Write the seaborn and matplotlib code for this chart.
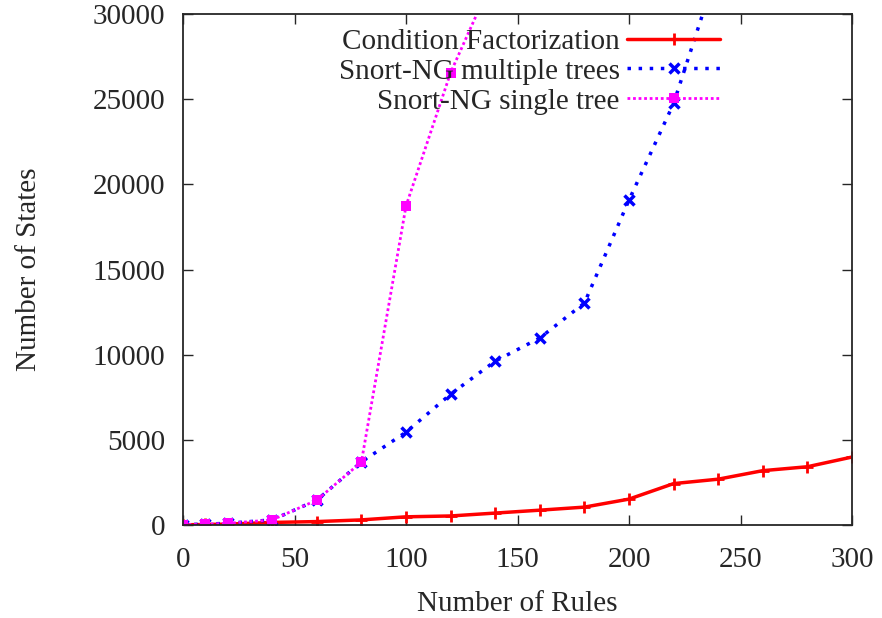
import matplotlib
matplotlib.use("Agg")
import matplotlib.pyplot as plt
import seaborn as sns
import pandas as pd

sns.set_style("ticks")
plt.rcParams['font.family'] = ['Liberation Serif', 'DejaVu Serif']

cf_x = [0, 10, 20, 40, 60, 80, 100, 120, 140, 160, 180, 200, 220, 240, 260, 280, 300]
cf_y = [10, 30, 50, 150, 200, 300, 480, 530, 700, 870, 1050, 1520, 2430, 2690, 3190, 3420, 3990]

mt_x = [0, 10, 20, 40, 60, 80, 100, 120, 140, 160, 180, 200, 220, 240]
mt_y = [20, 50, 100, 300, 1460, 3700, 5450, 7680, 9620, 10980, 13030, 19080, 24750, 32800]

st_x = [0, 10, 20, 40, 60, 80, 100, 120, 140]
st_y = [20, 50, 100, 300, 1460, 3700, 18730, 26560, 32400]

fig = plt.figure(figsize=(8.82, 6.18), dpi=100)
ax = fig.add_axes([0.2075, 0.1505, 0.7585, 0.8268])

sns.lineplot(x=cf_x, y=cf_y, ax=ax, color='#ff0000', lw=2.5, marker='+', ms=8, mew=2,
             mec='#ff0000', label='Condition Factorization')
sns.lineplot(x=mt_x, y=mt_y, ax=ax, color='#0000ff', lw=2.5, marker='x', ms=7.5, mew=2.5,
             mec='#0000ff', linestyle=(0, (1, 2.2)), label='Snort-NG multiple trees')
sns.lineplot(x=st_x, y=st_y, ax=ax, color='#ff00ff', lw=2, marker='s', ms=7.5, mew=0,
             mec='#ff00ff', linestyle=(0, (1, 1)), label='Snort-NG single tree')

ax.set_xlim(0, 300)
ax.set_ylim(0, 30000)
ax.set_xticks([0, 50, 100, 150, 200, 250, 300])
ax.set_yticks([0, 5000, 10000, 15000, 20000, 25000, 30000])
ax.tick_params(direction='in', length=7, width=1, labelsize=21, top=True, right=True)
ax.tick_params(axis='x', pad=16)
ax.tick_params(axis='y', pad=13)
for s in ax.spines.values():
    s.set_linewidth(1.3)
    s.set_visible(True)
ax.set_xlabel('Number of Rules', fontsize=21, labelpad=13)
ax.set_ylabel('Number of States', fontsize=21, labelpad=36)

leg = ax.legend(loc='upper right', bbox_to_anchor=(0.803, 0.972), frameon=False, fontsize=21,
                markerfirst=False, handlelength=3.2, labelspacing=0.12, handletextpad=0.25,
                borderpad=0, borderaxespad=0)
for t in leg.get_texts():
    t.set_ha('right')
leg._legend_box.align = 'right'

fig.savefig('out.png', dpi=100)
